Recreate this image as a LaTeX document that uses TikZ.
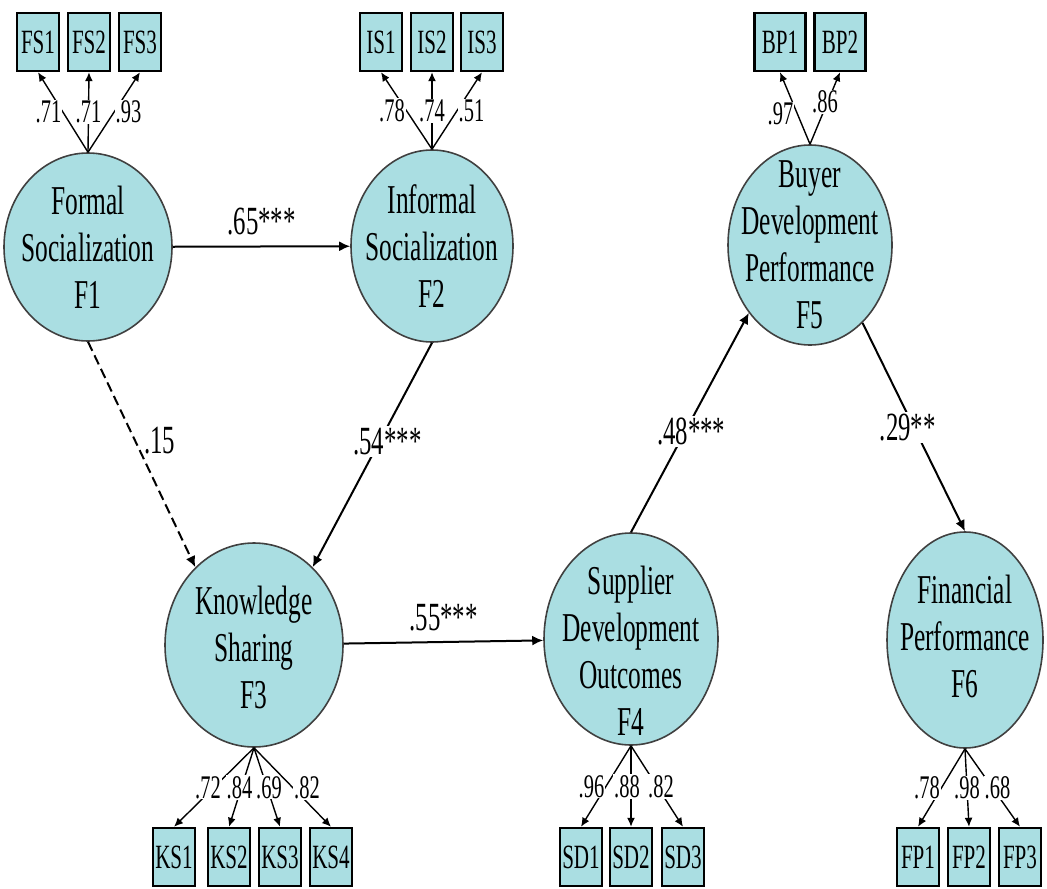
\documentclass[tikz,border=0pt]{standalone}
\usepackage{fontspec}
\setmainfont{Liberation Serif}[FakeStretch=0.62]
\usetikzlibrary{arrows.meta,shapes.geometric}
\definecolor{FactorClr}{rgb}{0.667,0.871,0.886}
\definecolor{RimClr}{rgb}{0.25,0.25,0.25}

\begin{document}
\begin{tikzpicture}[x=0.5pt,y=-0.5pt,
  factor/.style={ellipse,draw=RimClr,fill=FactorClr,line width=0.8pt,inner sep=0pt},
  ftext/.style={align=center,font=\fontsize{20.5}{23.5}\selectfont},
  item/.style={rectangle,draw=black,fill=FactorClr,line width=1.2pt,minimum width=21pt,minimum height=29pt,inner sep=0pt,font=\fontsize{17}{19}\selectfont},
  effect/.style={line width=1pt,-{Latex[length=5.5pt,width=5pt]}},
  load/.style={line width=0.7pt,-{Latex[length=4.5pt,width=4pt]}},
  coef/.style={font=\fontsize{20}{23}\selectfont,fill=white,inner sep=1pt},
  lw/.style={font=\fontsize{16.5}{18}\selectfont,fill=white,inner sep=0.5pt}]
\useasboundingbox (0,0) rectangle (1047,888);

% latent factors
\node[factor,minimum width=84pt,minimum height=94pt,label={[ftext]center:Formal\\Socialization\\F1}] (F1) at (88,247) {};
\node[factor,minimum width=81pt,minimum height=96pt,label={[ftext]center:Informal\\Socialization\\F2}] (F2) at (432,246) {};
\node[factor,minimum width=89pt,minimum height=102pt,label={[ftext,yshift=-1pt]center:Knowledge\\Sharing\\F3}] (F3) at (254,645) {};
\node[factor,minimum width=87pt,minimum height=106pt,label={[ftext,yshift=-6pt]center:Supplier\\Development\\Outcomes\\F4}] (F4) at (631,639) {};
\node[factor,minimum width=82pt,minimum height=100pt,label={[ftext]center:Buyer\\Development\\Performance\\F5}] (F5) at (810,245) {};
\node[factor,minimum width=78pt,minimum height=108pt,label={[ftext,yshift=2pt]center:Financial\\Performance\\F6}] (F6) at (965,640) {};

% indicators
\node[item] (FS1) at (38,42) {FS1};
\node[item] (FS2) at (89,42) {FS2};
\node[item] (FS3) at (140,42) {FS3};
\node[item] (IS1) at (381,42) {IS1};
\node[item] (IS2) at (432,42) {IS2};
\node[item] (IS3) at (482,42) {IS3};
\node[item,minimum width=25.5pt] (BP1) at (780,42) {BP1};
\node[item,minimum width=25.5pt] (BP2) at (840,42) {BP2};
\node[item] (KS1) at (174,857) {KS1};
\node[item] (KS2) at (229,857) {KS2};
\node[item] (KS3) at (280,857) {KS3};
\node[item] (KS4) at (331,857) {KS4};
\node[item] (SD1) at (581,857) {SD1};
\node[item] (SD2) at (631,857) {SD2};
\node[item] (SD3) at (683,857) {SD3};
\node[item] (FP1) at (918,857) {FP1};
\node[item] (FP2) at (969,857) {FP2};
\node[item] (FP3) at (1020,857) {FP3};

% loadings
\draw[load] (F1.north) -- node[lw,anchor=east]{.71} (FS1.south);
\draw[load] (F1.north) -- node[lw]{.71} (FS2.south);
\draw[load] (F1.north) -- node[lw,anchor=west]{.93} (FS3.south);
\draw[load] (F2.north) -- node[lw,anchor=east]{.78} (IS1.south);
\draw[load] (F2.north) -- node[lw]{.74} (IS2.south);
\draw[load] (F2.north) -- node[lw,anchor=west]{.51} (IS3.south);
\draw[load] (F5.north) -- node[lw,anchor=east,yshift=-3pt]{.97} (BP1.south);
\draw[load] (F5.north) -- node[lw,yshift=3pt]{.86} (BP2.south);
\draw[load] (F3.south) -- node[lw,xshift=-3pt]{.72} (KS1.north);
\draw[load] (F3.south) -- node[lw,xshift=-1pt]{.84} (KS2.north);
\draw[load] (F3.south) -- node[lw,xshift=1pt]{.69} (KS3.north);
\draw[load] (F3.south) -- node[lw,anchor=west]{.82} (KS4.north);
\draw[load] (F4.south) -- node[lw,anchor=east]{.96} (SD1.north);
\draw[load] (F4.south) -- node[lw,xshift=-2pt]{.88} (SD2.north);
\draw[load] (F4.south) -- node[lw,xshift=2pt]{.82} (SD3.north);
\draw[load] (F6.south) -- node[lw,anchor=east]{.78} (FP1.north);
\draw[load] (F6.south) -- node[lw]{.98} (FP2.north);
\draw[load] (F6.south) -- node[lw,xshift=2.5pt]{.68} (FP3.north);

% structural paths
\draw[effect] (F1) -- node[coef,above=4pt]{.65***} (F2);
\draw[effect,dash pattern=on 5pt off 2.5pt] (F1.south) -- node[coef,fill=none,right=3pt,pos=.44]{.15} (F3.127);
\draw[effect] (F2.south) -- node[coef,pos=.44,xshift=4pt]{.54***} (F3.53);
\draw[effect] (F3) -- node[coef,above=4pt]{.55***} (F4);
\draw[effect] (F4.north) -- node[coef,pos=.46,xshift=3pt]{.48***} (F5.228);
\draw[effect] (F5.-56) -- node[coef,pos=.5,xshift=-3pt]{.29**} (F6.north);

\end{tikzpicture}
\end{document}
